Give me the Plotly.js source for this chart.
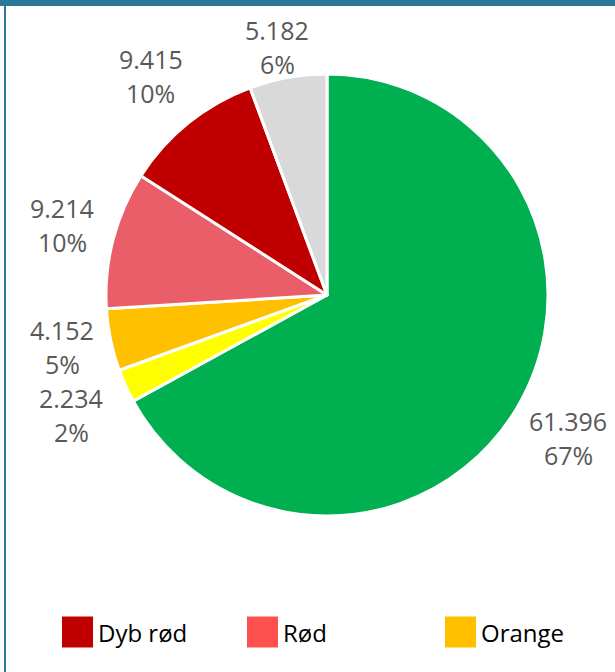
<!DOCTYPE html>
<html>
<head>
<meta charset="utf-8">
<script src="https://cdn.plot.ly/plotly-3.0.1.min.js"></script>
<style>html,body{margin:0;padding:0;background:#fff;}#chart{width:615px;height:672px;}</style>
</head>
<body>
<div id="chart"></div>
<script>
// Data
var categories = ['Grøn', 'Gul', 'Orange', 'Rød', 'Dyb rød', 'Grå'];
var values = [61396, 2234, 4152, 9214, 9415, 5182];
var sliceColors = ['#00b050', '#ffff00', '#ffc000', '#e95e68', '#c00000', '#d9d9d9'];
var legendNames = ['Dyb rød', 'Rød', 'Orange'];
var legendColors = ['#c00000', '#ff5050', '#ffc000'];

// Layout constants (pixels)
var W = 615, H = 672;
var CX = 327, CY = 295, R = 221;
var labelDist = 1.27;         // label centre relative to radius
var minLabelX = 62, minLabelY = 47;
var lineGap = 17;
var minSep = 68;              // minimum vertical distance between neighbouring label centres
var legendX = [62, 247, 445];
var legendY = 632;
var sw = 31;
var textColor = '#595959';

function px(x) { return x / W; }
function py(y) { return 1 - y / H; }

var shapes = [
  {type: 'rect', xref: 'paper', yref: 'paper', x0: 0, x1: 1, y0: py(6), y1: 1, fillcolor: '#2a7898', line: {width: 0}, layer: 'above'},
  {type: 'rect', xref: 'paper', yref: 'paper', x0: px(4), x1: px(6), y0: 0, y1: 1, fillcolor: '#2a7898', line: {width: 0}, layer: 'above'}
];
var annotations = [];

// Legend
legendNames.forEach(function (n, i) {
  var x = legendX[i];
  shapes.push({type: 'rect', xref: 'paper', yref: 'paper',
    x0: px(x), x1: px(x + sw), y0: py(legendY + sw / 2), y1: py(legendY - sw / 2),
    fillcolor: legendColors[i], line: {width: 0}});
  annotations.push({xref: 'paper', yref: 'paper', x: px(x + sw + 3), y: py(legendY),
    xanchor: 'left', yanchor: 'middle', showarrow: false, text: n,
    font: {family: 'Open Sans', size: 24, color: '#000'}});
});

// Outside labels derived from the data (slice mid-angles)
var total = values.reduce(function (a, b) { return a + b; }, 0);
function fmtThousands(v) { return String(v).replace(/\B(?=(\d{3})+(?!\d))/g, '.'); }
var cum = 0;
var labels = values.map(function (v) {
  var frac = v / total;
  var mid = (cum + frac / 2) * 2 * Math.PI; // clockwise from top
  cum += frac;
  var x = CX + Math.sin(mid) * R * labelDist;
  var y = CY - Math.cos(mid) * R * labelDist;
  return {x: Math.max(x, minLabelX), y: Math.max(y, minLabelY),
          v: fmtThousands(v), p: Math.round(frac * 100) + '%'};
});
// simple de-overlap of neighbouring labels on the same side
for (var i = 0; i < labels.length; i++) {
  var a = labels[i], b = labels[(i + 1) % labels.length];
  if (Math.abs(a.x - b.x) < 80 && Math.abs(a.y - b.y) < minSep) {
    var push = (minSep - Math.abs(a.y - b.y)) / 2;
    var s = a.y < b.y ? 1 : -1;
    a.y -= s * push; b.y += s * push;
  }
}
labels.forEach(function (l) {
  [[l.v, -lineGap], [l.p, lineGap]].forEach(function (t) {
    annotations.push({xref: 'paper', yref: 'paper', x: px(l.x), y: py(l.y + t[1]),
      xanchor: 'center', yanchor: 'middle', showarrow: false, text: t[0],
      font: {family: 'Open Sans', size: 25, color: textColor}});
  });
});

var trace = {
  type: 'pie',
  labels: categories,
  values: values,
  sort: false,
  direction: 'clockwise',
  rotation: 0,
  marker: {colors: sliceColors, line: {color: '#ffffff', width: 3}},
  textinfo: 'none',
  showlegend: false,
  hoverinfo: 'label+value+percent',
  domain: {x: [px(CX - R), px(CX + R)], y: [py(CY + R), py(CY - R)]}
};

var layout = {
  width: W, height: H,
  margin: {l: 0, r: 0, t: 0, b: 0},
  paper_bgcolor: '#fff',
  separators: ',.',
  showlegend: false,
  shapes: shapes,
  annotations: annotations,
  font: {family: 'Open Sans'}
};

Plotly.newPlot('chart', [trace], layout, {displayModeBar: false, staticPlot: true});
</script>
</body>
</html>
